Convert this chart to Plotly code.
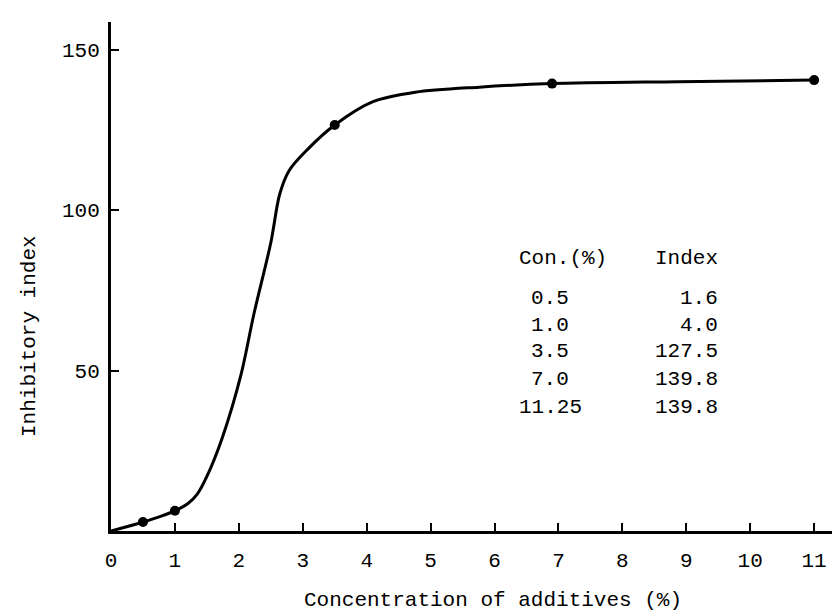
import plotly.graph_objects as go

# Measured points (as plotted in the figure)
point_x = [0.5, 1.0, 3.5, 6.9, 11.0]
point_y = [2.8, 6.3, 126.5, 139.4, 140.5]

# Hand-drawn smooth curve
curve_x = [0.0, 0.5, 1.0, 1.2, 1.35, 1.5, 1.74, 2.03, 2.24, 2.50, 2.64, 2.79, 3.08, 3.5, 4.09, 4.76, 5.76, 6.9, 8.87, 11.0]
curve_y = [0.0, 2.8, 6.3, 8.5, 11.5, 17.0, 29.0, 48.4, 68.0, 89.8, 105.0, 112.4, 119.0, 126.5, 133.7, 136.7, 138.3, 139.4, 140.0, 140.5]

# Inset table
table_header = ["Con.(%)", "Index"]
table_conc = ["0.5", "1.0", "3.5", "7.0", "11.25"]
table_index = ["1.6", "4.0", "127.5", "139.8", "139.8"]

x_ticks = list(range(0, 12))
y_ticks = [50, 100, 150]

FONT = "Liberation Mono, Courier New, monospace"
FS = 21

fig = go.Figure()
fig.add_trace(go.Scatter(x=curve_x, y=curve_y, mode="lines",
                         line=dict(color="black", width=3, shape="spline", smoothing=0.9),
                         hoverinfo="skip", showlegend=False))
fig.add_trace(go.Scatter(x=point_x, y=point_y, mode="markers",
                         marker=dict(color="black", size=10),
                         showlegend=False))

annotations = []
# header
annotations.append(dict(x=0.6133, y=0.5363, xref="paper", yref="paper", text=table_header[0],
                        showarrow=False, xanchor="center", yanchor="middle"))
annotations.append(dict(x=0.8270, y=0.5363, xref="paper", yref="paper", text=table_header[1],
                        showarrow=False, xanchor="right", yanchor="middle"))
row_y = [0.4558, 0.4037, 0.3517, 0.2978, 0.2424]
for c, v, yy in zip(table_conc, table_index, row_y):
    annotations.append(dict(x=0.5957, y=yy, xref="paper", yref="paper", text=c,
                            showarrow=False, xanchor="center", yanchor="middle"))
    annotations.append(dict(x=0.8270, y=yy, xref="paper", yref="paper", text=v,
                            showarrow=False, xanchor="right", yanchor="middle"))
# axis titles
annotations.append(dict(x=-0.1113, y=0.383, xref="paper", yref="paper", text="Inhibitory index",
                        textangle=-90, showarrow=False, xanchor="center", yanchor="middle"))
annotations.append(dict(x=0.518, y=-0.1375, xref="paper", yref="paper", text="Concentration of additives (%)",
                        showarrow=False, xanchor="center", yanchor="middle"))

fig.update_layout(
    width=840, height=613,
    margin=dict(l=103, r=0, t=14, b=90),
    paper_bgcolor="white", plot_bgcolor="white",
    font=dict(family=FONT, size=FS, color="black"),
    annotations=annotations,
    xaxis=dict(range=[0, 11.53], tickvals=x_ticks, ticktext=[str(t) for t in x_ticks],
               ticks="inside", ticklen=8, tickwidth=2, tickcolor="black",
               showline=True, linecolor="black", linewidth=3,
               showgrid=False, zeroline=False, ticklabelstandoff=8),
    yaxis=dict(range=[0, 158.6], tickvals=y_ticks, ticktext=[str(t) for t in y_ticks],
               ticks="inside", ticklen=8, tickwidth=2, tickcolor="black",
               showline=True, linecolor="black", linewidth=3,
               showgrid=False, zeroline=False, ticklabelstandoff=4),
)

fig.write_html("out.html")
